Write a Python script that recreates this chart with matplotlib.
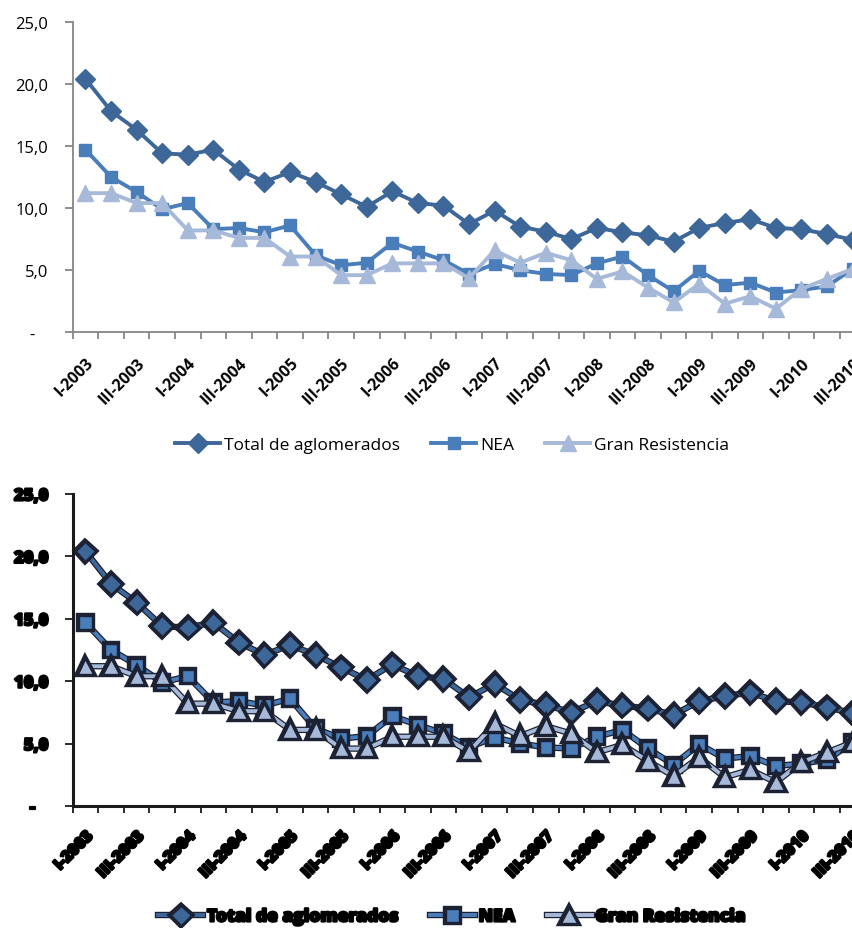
import matplotlib.pyplot as plt
import matplotlib.patheffects as pe
import numpy as np

plt.rcParams['font.family'] = ['Open Sans', 'DejaVu Sans']

# quarters I-2003 .. III-2010
roman = ["I", "II", "III", "IV"]
quarters = [f"{roman[q]}-{y}" for y in range(2003, 2011) for q in range(4)][:31]

total = [20.4, 17.8, 16.3, 14.4, 14.3, 14.7, 13.1, 12.1, 12.9, 12.1, 11.1, 10.1, 11.35, 10.4, 10.2, 8.7,
         9.8, 8.5, 8.1, 7.5, 8.4, 8.05, 7.8, 7.3, 8.4, 8.8, 9.1, 8.4, 8.3, 7.9, 7.45]
nea = [14.7, 12.5, 11.3, 9.9, 10.4, 8.3, 8.4, 8.05, 8.6, 6.2, 5.4, 5.6, 7.2, 6.5, 5.8, 4.7,
       5.5, 5.0, 4.7, 4.6, 5.55, 6.1, 4.6, 3.3, 4.95, 3.8, 4.0, 3.2, 3.4, 3.7, 5.1]
gran_res = [11.2, 11.2, 10.4, 10.4, 8.2, 8.2, 7.6, 7.6, 6.1, 6.1, 4.6, 4.6, 5.55, 5.55, 5.55, 4.35,
            6.6, 5.6, 6.4, 5.8, 4.3, 4.9, 3.6, 2.4, 3.9, 2.3, 2.9, 1.9, 3.5, 4.3, 5.1]

series_names = ["Total de aglomerados", "NEA", "Gran Resistencia"]
colors = ["#3E6799", "#4A7EBB", "#A7B9D9"]
markers = ["D", "s", "^"]
msizes = [10, 9, 11]

yticks = [0, 5, 10, 15, 20, 25]
ylabels = ["-   ", "5,0", "10,0", "15,0", "20,0", "25,0"]

x = np.arange(len(quarters))

fig = plt.figure(figsize=(8.53, 9.29), dpi=100)
ax1 = fig.add_axes([72.7 / 853, 1 - 333.3 / 929, 792.7 / 853, 310.6 / 929])
ax2 = fig.add_axes([72.7 / 853, 1 - 807 / 929, 792.7 / 853, 312 / 929])


def style_axis(ax, heavy):
    axis_col = "#1a1a1a" if heavy else "#868686"
    weight = "heavy" if heavy else "normal"
    for s in ["top", "right"]:
        ax.spines[s].set_visible(False)
    for s in ["left", "bottom"]:
        ax.spines[s].set_color(axis_col)
        ax.spines[s].set_linewidth(2.2 if heavy else 1.3)
    ax.set_xlim(-0.5, 30.5)
    ax.set_ylim(0, 25)
    ax.set_yticks(yticks)
    ax.set_yticklabels(ylabels, fontsize=12, color="black", fontweight=weight)
    ax.tick_params(axis="y", length=5.5, width=1.3, color=axis_col, pad=12)
    ax.set_xticks(np.arange(-0.5, 31, 1))
    ax.set_xticklabels([])
    ax.tick_params(axis="x", which="major", length=5, width=1.3, color=axis_col)
    ax.set_xticks(x[::2], minor=True)
    ax.set_xticklabels(quarters[::2], minor=True, rotation=45, ha="right", va="top",
                       rotation_mode="anchor", fontsize=11.5, fontweight="heavy" if heavy else "bold",
                       color="black")
    ax.tick_params(axis="x", which="minor", length=0, pad=16)
    if heavy:
        for t in ax.get_yticklabels() + ax.get_xticklabels(minor=True):
            t.set_path_effects([pe.Stroke(linewidth=1.6, foreground="black"), pe.Normal()])


# top chart
style_axis(ax1, False)
for vals, name, c, m, ms in zip([total, nea, gran_res], series_names, colors, markers, msizes):
    ax1.plot(x, vals, color=c, lw=2.8, marker=m, markersize=ms, markerfacecolor=c,
             markeredgecolor=c, label=name, clip_on=False)
fig.legend(*ax1.get_legend_handles_labels(), loc="center", bbox_to_anchor=(452 / 853, 1 - 446 / 929),
           ncol=3, frameon=False, fontsize=12.5, handlelength=2.6, handletextpad=0.2,
           columnspacing=1.8)

# bottom chart (bold rendering)
style_axis(ax2, True)
for vals, name, c, m, ms in zip([total, nea, gran_res], series_names, colors, markers, msizes):
    ax2.plot(x, vals, color=c, lw=2.8, marker=m, markersize=ms, markerfacecolor=c,
             markeredgecolor="#1c2233", markeredgewidth=1.0, label=name, clip_on=False,
             path_effects=[pe.Stroke(linewidth=4.6, foreground="#1c2233"), pe.Normal()])
leg2 = fig.legend(*ax2.get_legend_handles_labels(), loc="center", bbox_to_anchor=(452 / 853, 1 - 918 / 929),
                  ncol=3, frameon=False, handlelength=2.6, handletextpad=0.2, columnspacing=1.8,
                  prop={"size": 12.5, "weight": "heavy"})
for t in leg2.get_texts():
    t.set_path_effects([pe.Stroke(linewidth=1.6, foreground="black"), pe.Normal()])

fig.savefig("out.png", dpi=100)
